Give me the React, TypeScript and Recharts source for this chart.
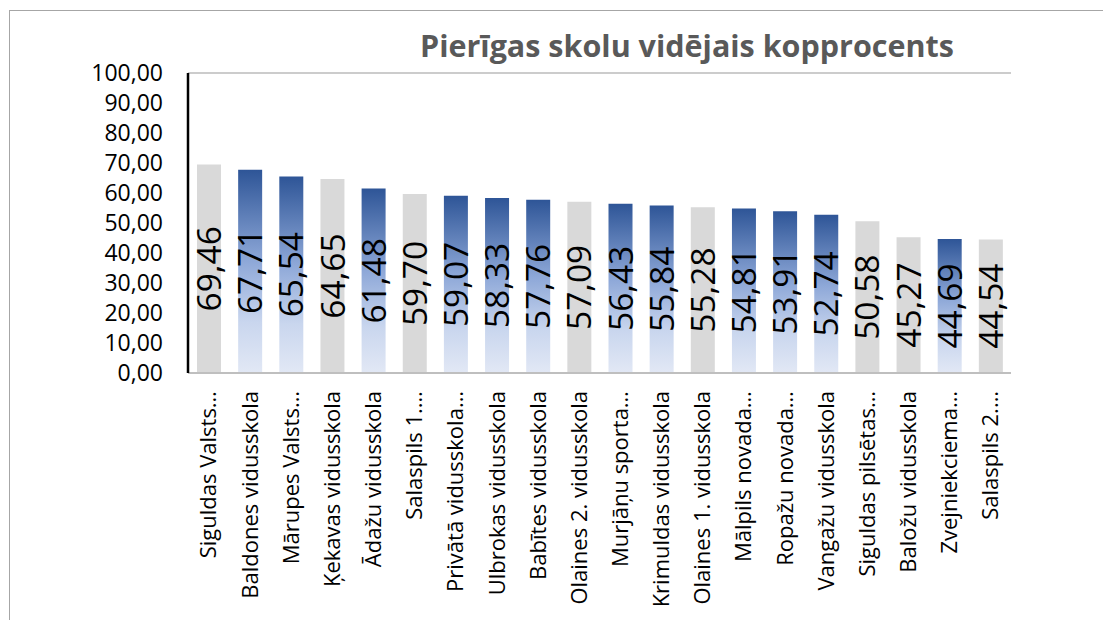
import { Bar, BarChart, CartesianGrid, Cell, LabelList, XAxis, YAxis } from "recharts";

const schools = [
  "Siguldas Valsts…",
  "Baldones vidusskola",
  "Mārupes Valsts…",
  "Ķekavas vidusskola",
  "Ādažu vidusskola",
  "Salaspils 1.…",
  "Privātā vidusskola…",
  "Ulbrokas vidusskola",
  "Babītes vidusskola",
  "Olaines 2. vidusskola",
  "Murjāņu sporta…",
  "Krimuldas vidusskola",
  "Olaines 1. vidusskola",
  "Mālpils novada…",
  "Ropažu novada…",
  "Vangažu vidusskola",
  "Siguldas pilsētas…",
  "Baložu vidusskola",
  "Zvejniekciema…",
  "Salaspils 2.…",
];

const scores = [
  69.46, 67.71, 65.54, 64.65, 61.48, 59.7, 59.07, 58.33, 57.76, 57.09,
  56.43, 55.84, 55.28, 54.81, 53.91, 52.74, 50.58, 45.27, 44.69, 44.54,
];

// bars drawn in plain grey in the original
const greySchools = [
  "Siguldas Valsts…",
  "Ķekavas vidusskola",
  "Salaspils 1.…",
  "Olaines 2. vidusskola",
  "Olaines 1. vidusskola",
  "Siguldas pilsētas…",
  "Baložu vidusskola",
  "Salaspils 2.…",
];

const yTicks = [0, 10, 20, 30, 40, 50, 60, 70, 80, 90, 100];

const title = "Pierīgas skolu vidējais kopprocents";

const FONT = "'Open Sans', sans-serif";
const fmt = (v: number) => v.toFixed(2).replace(".", ",");

const data = schools.map((name, i) => ({ name, value: scores[i] }));

function SchoolTick(props: any) {
  const { x, y, payload } = props;
  return (
    <text
      x={x}
      y={y + 10}
      transform={`rotate(-90, ${x}, ${y + 10})`}
      textAnchor="end"
      dy="0.36em"
      fontSize={22}
      fontFamily={FONT}
      fill="#000"
    >
      {payload.value}
    </text>
  );
}

function ValueLabel(props: any) {
  const vb = props.viewBox || props;
  const cx = vb.x + vb.width / 2;
  const cy = vb.y + vb.height / 2;
  return (
    <text
      x={cx}
      y={cy}
      transform={`rotate(-90, ${cx}, ${cy})`}
      textAnchor="middle"
      dy="0.36em"
      fontSize={33.5}
      fontFamily={FONT}
      fill="#000"
    >
      {fmt(props.value)}
    </text>
  );
}

export default function App() {
  return (
    <div style={{ position: "absolute", left: 0, top: 0, width: 1103, height: 620, background: "#fff", overflow: "hidden" }}>
      <div
        style={{
          position: "absolute",
          left: 9,
          top: 10,
          width: 1200,
          height: 700,
          border: "1.5px solid #a6a6a6",
          boxSizing: "border-box",
        }}
      />
      <div
        style={{
          position: "absolute",
          left: 420,
          top: 30,
          fontFamily: FONT,
          fontWeight: 700,
          fontSize: 30.5,
          lineHeight: "31px",
          color: "#595959",
          whiteSpace: "nowrap",
        }}
      >
        {title}
      </div>
      <div style={{ position: "absolute", left: 0, top: 0 }}>
        <BarChart width={1103} height={620} data={data} margin={{ top: 73, right: 92, bottom: 0, left: 0 }}>
          <defs>
            <linearGradient id="blueFill" x1="0" y1="0" x2="0" y2="1">
              <stop offset="0%" stopColor="#2e5597" />
              <stop offset="45%" stopColor="#8ea8d8" />
              <stop offset="75%" stopColor="#c9d6ee" />
              <stop offset="100%" stopColor="#e2e8f5" />
            </linearGradient>
          </defs>
          <CartesianGrid vertical={false} stroke="#9a9a9a" strokeWidth={1.2} />
          <XAxis
            dataKey="name"
            interval={0}
            height={247}
            tick={<SchoolTick />}
            tickLine={false}
            axisLine={{ stroke: "#bfbfbf", strokeWidth: 2 }}
          />
          <YAxis
            yAxisId="left"
            width={188}
            domain={[0, 100]}
            ticks={yTicks}
            tickFormatter={fmt}
            tickSize={0}
            tickMargin={25}
            tickLine={false}
            axisLine={{ stroke: "#000", strokeWidth: 2.5 }}
            tick={{ fill: "#000", fontSize: 23, fontFamily: FONT }}
            interval={0}
          />
          <YAxis
            yAxisId="right"
            orientation="right"
            width={0}
            domain={[0, 100]}
            tick={false}
            tickLine={false}
            axisLine={{ stroke: "#bfbfbf", strokeWidth: 2 }}
          />
          <Bar yAxisId="left" dataKey="value" barSize={24} isAnimationActive={false}>
            {data.map((d) => (
              <Cell key={d.name} fill={greySchools.includes(d.name) ? "#d9d9d9" : "url(#blueFill)"} />
            ))}
            <LabelList dataKey="value" content={<ValueLabel />} />
          </Bar>
        </BarChart>
      </div>
    </div>
  );
}
